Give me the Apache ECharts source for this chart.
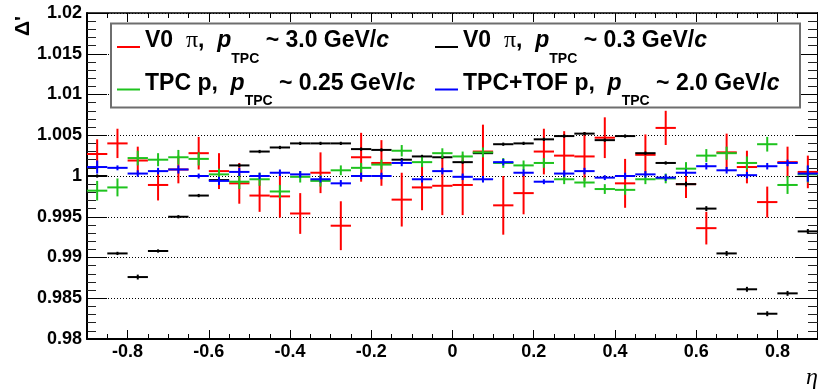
<!DOCTYPE html>
<html>
<head>
<meta charset="utf-8">
<script src="https://cdn.jsdelivr.net/npm/echarts@6/dist/echarts.min.js"></script>
<style>
  html, body { margin: 0; padding: 0; background: #fff; }
  #chart { width: 818px; height: 390px; }
</style>
</head>
<body>
<div id="chart"></div>
<script>
// eta bin centres (bin width 0.05)
const etaBins = [
  -0.875, -0.825, -0.775, -0.725, -0.675, -0.625, -0.575, -0.525, -0.475,
  -0.425, -0.375, -0.325, -0.275, -0.225, -0.175, -0.125, -0.075, -0.025,
   0.025,  0.075,  0.125,  0.175,  0.225,  0.275,  0.325,  0.375,  0.425,
   0.475,  0.525,  0.575,  0.625,  0.675,  0.725,  0.775,  0.825,  0.875
];
const binHalfWidth = 0.025;

// V0 pions, p_TPC ~ 3.0 GeV/c
const v0PiHigh = [
  1.0027, 1.0040, 1.0019, 0.9989, 1.0008, 1.0028, 1.0006, 0.9991, 0.9976,
  0.9975, 0.9954, 1.0004, 0.9939, 1.0023, 1.0016, 0.9971, 0.9986, 0.9988,
  0.9989, 1.0030, 0.9964, 0.9979, 1.0030, 1.0025, 1.0024, 1.0047, 0.9991,
  1.0026, 1.0059, 0.9990, 0.9936, 1.0029, 1.0011, 0.9968, 1.0017, 1.0005
];
const v0PiHighErr = [
  0.0018, 0.0018, 0.0017, 0.0019, 0.0017, 0.0020, 0.0022, 0.0025, 0.0020,
  0.0026, 0.0025, 0.0025, 0.0030, 0.0030, 0.0028, 0.0033, 0.0028, 0.0036,
  0.0037, 0.0033, 0.0036, 0.0026, 0.0028, 0.0030, 0.0030, 0.0025, 0.0030,
  0.0025, 0.0021, 0.0017, 0.0020, 0.0023, 0.0020, 0.0019, 0.0019, 0.0020
];

// V0 pions, p_TPC ~ 0.3 GeV/c
const v0PiLow = [
  1.0000, 0.9905, 0.9876, 0.9908, 0.9950, 0.9976, 0.9995, 1.0013, 1.0030,
  1.0035, 1.0040, 1.0040, 1.0040, 1.0033, 1.0032, 1.0020, 1.0024, 1.0023,
  1.0017, 1.0028, 1.0039, 1.0040, 1.0045, 1.0049, 1.0052, 1.0044, 1.0049,
  1.0028, 1.0016, 0.9990, 0.9960, 0.9905, 0.9861, 0.9831, 0.9856, 0.9932
];
const v0PiLowErr = [
  0.0002, 0.0002, 0.0003, 0.0002, 0.0002, 0.0002, 0.0002, 0.0002, 0.0002,
  0.0002, 0.0002, 0.0002, 0.0002, 0.0002, 0.0002, 0.0002, 0.0002, 0.0002,
  0.0002, 0.0002, 0.0002, 0.0002, 0.0002, 0.0002, 0.0002, 0.0002, 0.0002,
  0.0002, 0.0002, 0.0003, 0.0003, 0.0003, 0.0003, 0.0003, 0.0003, 0.0003
];

// TPC protons, p_TPC ~ 0.25 GeV/c
const tpcProton = [
  0.9982, 0.9986, 1.0022, 1.0020, 1.0023, 1.0021, 1.0002, 0.9993, 0.9996,
  0.9981, 0.9999, 0.9994, 1.0007, 1.0010, 1.0014, 1.0031, 1.0017, 1.0028,
  1.0024, 1.0029, 1.0016, 1.0013, 1.0016, 0.9996, 0.9992, 0.9984, 0.9983,
  0.9996, 0.9997, 1.0009, 1.0025, 1.0028, 1.0016, 1.0039, 0.9989, 1.0002
];
const tpcProtonErr = [
  0.0012, 0.0011, 0.0009, 0.0008, 0.0009, 0.0008, 0.0007, 0.0009, 0.0008,
  0.0008, 0.0007, 0.0007, 0.0006, 0.0006, 0.0006, 0.0007, 0.0006, 0.0006,
  0.0006, 0.0006, 0.0006, 0.0006, 0.0006, 0.0006, 0.0006, 0.0006, 0.0006,
  0.0006, 0.0006, 0.0008, 0.0008, 0.0008, 0.0008, 0.0009, 0.0011, 0.0010
];

// TPC+TOF protons, p_TPC ~ 2.0 GeV/c
const tofProton = [
  1.0011, 1.0010, 1.0003, 1.0006, 1.0008, 1.0000, 0.9994, 1.0005, 1.0000,
  1.0004, 1.0002, 0.9996, 0.9991, 1.0000, 1.0000, 1.0016, 0.9996, 1.0006,
  0.9999, 0.9996, 1.0017, 1.0004, 0.9993, 1.0003, 1.0006, 0.9998, 1.0000,
  1.0002, 0.9998, 1.0004, 1.0012, 1.0007, 1.0001, 1.0012, 1.0016, 1.0003
];
const tofProtonErr = [
  0.0008, 0.0003, 0.0004, 0.0004, 0.0005, 0.0003, 0.0005, 0.0005, 0.0004,
  0.0004, 0.0004, 0.0004, 0.0004, 0.0004, 0.0004, 0.0004, 0.0004, 0.0004,
  0.0004, 0.0004, 0.0004, 0.0004, 0.0003, 0.0004, 0.0004, 0.0003, 0.0004,
  0.0004, 0.0004, 0.0004, 0.0004, 0.0004, 0.0004, 0.0004, 0.0004, 0.0010
];

const seriesNames = [
  'V0 π, p_TPC ~ 3.0 GeV/c',
  'V0 π, p_TPC ~ 0.3 GeV/c',
  'TPC p, p_TPC ~ 0.25 GeV/c',
  'TPC+TOF p, p_TPC ~ 2.0 GeV/c'
];
const seriesColors = ['#ff0000', '#000000', '#1ec31e', '#0000ff'];

// rich-text legend labels with the TPC subscript
const legendLabels = {
  'V0 π, p_TPC ~ 3.0 GeV/c': '{n|V0  }{gr|π}{n|,  }{it|p}{sub|TPC}{n| ~ 3.0 GeV/}{it|c}',
  'V0 π, p_TPC ~ 0.3 GeV/c': '{n|V0  }{gr|π}{n|,  }{it|p}{sub|TPC}{n| ~ 0.3 GeV/}{it|c}',
  'TPC p, p_TPC ~ 0.25 GeV/c': '{n|TPC p,  }{it|p}{sub|TPC}{n| ~ 0.25 GeV/}{it|c}',
  'TPC+TOF p, p_TPC ~ 2.0 GeV/c': '{n|TPC+TOF p,  }{it|p}{sub|TPC}{n| ~ 2.0 GeV/}{it|c}'
};

const FONT = '"Liberation Sans", Arial, Helvetica, sans-serif';

function toPoints(vals, errs) {
  return etaBins.map((x, i) => [x, vals[i], binHalfWidth, errs[i]]);
}

function renderCross(params, api) {
  const x = api.value(0), y = api.value(1), ex = api.value(2), ey = api.value(3);
  const l = api.coord([x - ex, y]), r = api.coord([x + ex, y]);
  const t = api.coord([x, y + ey]), b = api.coord([x, y - ey]);
  const style = { stroke: api.visual('color'), lineWidth: 2 };
  return {
    type: 'group',
    children: [
      { type: 'line', shape: { x1: l[0], y1: l[1], x2: r[0], y2: r[1] }, style: style },
      { type: 'line', shape: { x1: t[0], y1: t[1], x2: b[0], y2: b[1] }, style: style }
    ]
  };
}

const pointSets = [
  toPoints(v0PiHigh, v0PiHighErr),
  toPoints(v0PiLow, v0PiLowErr),
  toPoints(tpcProton, tpcProtonErr),
  toPoints(tofProton, tofProtonErr)
];

const richStyles = {
  n:   { fontFamily: FONT, fontWeight: 'bold', fontSize: 23, color: '#000', padding: [0, 0, 12, 0] },
  it:  { fontFamily: FONT, fontWeight: 'bold', fontStyle: 'italic', fontSize: 23, color: '#000', padding: [0, 0, 12, 0] },
  gr:  { fontFamily: '"Liberation Serif", serif', fontSize: 24, color: '#000', padding: [0, 0, 12, 0] },
  sub: { fontFamily: FONT, fontWeight: 'bold', fontSize: 14, color: '#000', padding: [24, 0, 0, 0] }
};

// legend entry anchors: [left, top]
const legendSpots = [[117, 29], [435, 29], [117, 72], [435, 72]];

const chart = echarts.init(document.getElementById('chart'), null, { renderer: 'canvas' });

const axisFont = { fontFamily: FONT, fontWeight: 'bold', fontSize: 18, color: '#000' };

chart.setOption({
  animation: false,
  backgroundColor: '#fff',
  grid: { left: 87, top: 13, width: 735, height: 326 },
  xAxis: [
    {
      type: 'value', min: -0.9, max: 0.9, splitNumber: 9,
      axisLine: { onZero: false, lineStyle: { color: '#000', width: 2 } },
      axisTick: { inside: true, length: 9, lineStyle: { color: '#000', width: 1 } },
      minorTick: { show: true, splitNumber: 4, length: 5, lineStyle: { color: '#000', width: 1 } },
      axisLabel: Object.assign({ margin: 4, showMinLabel: false, showMaxLabel: false }, axisFont),
      splitLine: { show: false }
    },
    {
      type: 'value', min: -0.9, max: 0.9, splitNumber: 9, position: 'top',
      axisLine: { onZero: false, lineStyle: { color: '#000', width: 1.5 } },
      axisTick: { inside: true, length: 9, lineStyle: { color: '#000', width: 1 } },
      minorTick: { show: true, splitNumber: 4, length: 5, lineStyle: { color: '#000', width: 1 } },
      axisLabel: { show: false },
      splitLine: { show: false }
    }
  ],
  yAxis: [
    {
      type: 'value', min: 0.98, max: 1.02, interval: 0.005,
      axisLine: { onZero: false, lineStyle: { color: '#000', width: 2 } },
      axisTick: { inside: true, length: 20, lineStyle: { color: '#000', width: 1 } },
      minorTick: { show: true, splitNumber: 5, length: 9, lineStyle: { color: '#222', width: 1 } },
      axisLabel: Object.assign({ margin: 5 }, axisFont),
      splitLine: { show: true, lineStyle: { color: '#000', width: 1, type: [1, 2] } }
    },
    {
      type: 'value', min: 0.98, max: 1.02, interval: 0.005, position: 'right',
      axisLine: { onZero: false, lineStyle: { color: '#000', width: 2 } },
      axisTick: { inside: true, length: 22, lineStyle: { color: '#000', width: 1 } },
      minorTick: { show: true, splitNumber: 5, length: 10, lineStyle: { color: '#222', width: 1 } },
      axisLabel: { show: false },
      splitLine: { show: false }
    }
  ],
  legend: seriesNames.map((name, i) => ({
    data: [{ name: name, icon: 'rect' }],
    left: legendSpots[i][0],
    top: legendSpots[i][1],
    padding: 0,
    itemWidth: 23,
    itemHeight: 2,
    selectedMode: false,
    formatter: (n) => legendLabels[n],
    textStyle: { rich: richStyles }
  })),
  graphic: [
    {
      type: 'rect', z: 3,
      shape: { x: 111, y: 23.5, width: 689, height: 84 },
      style: { fill: '#fff', stroke: '#6e6e6e', lineWidth: 2 }
    },
    {
      type: 'text', z: 5, x: 23, y: 26, rotation: Math.PI / 2,
      style: { text: 'Δ\'', font: 'bold 21px ' + FONT, fill: '#000', align: 'center', verticalAlign: 'middle' }
    },
    {
      type: 'text', z: 5, x: 806, y: 366,
      style: { text: 'η', font: 'italic 24px "Liberation Serif", serif', fill: '#000', align: 'left', verticalAlign: 'top' }
    }
  ],
  series: seriesNames.map((name, i) => ({
    name: name,
    type: 'custom',
    xAxisIndex: 0,
    yAxisIndex: 0,
    itemStyle: { color: seriesColors[i] },
    renderItem: renderCross,
    encode: { x: 0, y: 1 },
    data: pointSets[i],
    z: 2 + i
  }))
});
</script>
</body>
</html>
